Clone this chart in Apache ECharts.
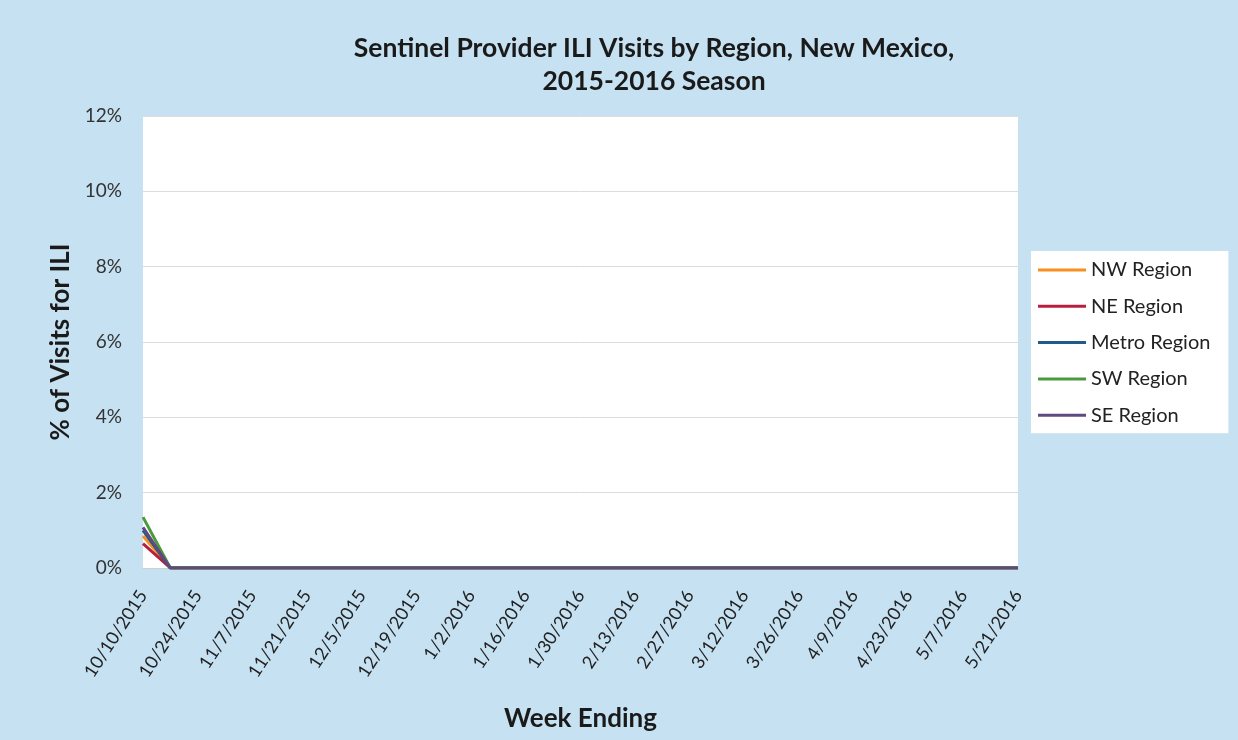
<!DOCTYPE html>
<html>
<head>
<meta charset="utf-8">
<script src="https://cdn.jsdelivr.net/npm/echarts@6/dist/echarts.min.js"></script>
<style>
  html, body { margin: 0; padding: 0; background: #c6e1f1; }
  #main { width: 1238px; height: 740px; }
</style>
</head>
<body>
<div id="main"></div>
<script>
// weeks ending, 2015-2016 season
var weeks = ['10/10/2015','10/17/2015','10/24/2015','10/31/2015','11/7/2015','11/14/2015','11/21/2015','11/28/2015',
    '12/5/2015','12/12/2015','12/19/2015','12/26/2015','1/2/2016','1/9/2016','1/16/2016','1/23/2016',
    '1/30/2016','2/6/2016','2/13/2016','2/20/2016','2/27/2016','3/5/2016','3/12/2016','3/19/2016',
    '3/26/2016','4/2/2016','4/9/2016','4/16/2016','4/23/2016','4/30/2016','5/7/2016','5/14/2016','5/21/2016'];

// % of visits for ILI
var nwRegion    = [0.85,0,0,0,0,0,0,0,0,0,0,0,0,0,0,0,0,0,0,0,0,0,0,0,0,0,0,0,0,0,0,0,0];
var neRegion    = [0.65,0,0,0,0,0,0,0,0,0,0,0,0,0,0,0,0,0,0,0,0,0,0,0,0,0,0,0,0,0,0,0,0];
var metroRegion = [1.0,0,0,0,0,0,0,0,0,0,0,0,0,0,0,0,0,0,0,0,0,0,0,0,0,0,0,0,0,0,0,0,0];
var swRegion    = [1.35,0,0,0,0,0,0,0,0,0,0,0,0,0,0,0,0,0,0,0,0,0,0,0,0,0,0,0,0,0,0,0,0];
var seRegion    = [1.08,0,0,0,0,0,0,0,0,0,0,0,0,0,0,0,0,0,0,0,0,0,0,0,0,0,0,0,0,0,0,0,0];

var font = 'Lato, "Open Sans", sans-serif';

function line(name, data, color) {
    return {
        name: name,
        type: 'line',
        data: data,
        symbol: 'none',
        lineStyle: { width: 3, color: color },
        itemStyle: { color: color }
    };
}

var myChart = echarts.init(document.getElementById('main'));

var option = {
    backgroundColor: '#c6e1f1',
    animation: false,
    title: {
        text: 'Sentinel Provider ILI Visits by Region, New Mexico,\n2015-2016 Season',
        left: 649,
        top: 27,
        textAlign: 'center',
        textStyle: { fontFamily: font, fontSize: 26.5, fontWeight: 'bold', color: '#1a1a1a', lineHeight: 33 }
    },
    legend: {
        orient: 'vertical',
        left: 1031,
        top: 251,
        padding: [9, 18, 8, 7],
        backgroundColor: '#ffffff',
        icon: 'rect',
        itemWidth: 48,
        itemHeight: 3,
        itemGap: 16.3,
        textStyle: { fontFamily: font, fontSize: 20, color: '#222' },
        data: ['NW Region', 'NE Region', 'Metro Region', 'SW Region', 'SE Region']
    },
    grid: {
        left: 143,
        right: 220,
        top: 116,
        bottom: 172,
        outerBoundsMode: 'none',
        containLabel: false,
        show: true,
        backgroundColor: '#ffffff',
        borderWidth: 0
    },
    xAxis: {
        type: 'category',
        data: weeks,
        boundaryGap: false,
        name: 'Week Ending',
        nameLocation: 'middle',
        nameGap: 138,
        nameTextStyle: { fontFamily: font, fontSize: 26, fontWeight: 'bold', color: '#1a1a1a' },
        axisLine: { lineStyle: { color: '#d0d0d0' } },
        axisTick: { show: false },
        axisLabel: { interval: 1, rotate: 57, margin: 24, fontFamily: font, fontSize: 18, color: '#222' }
    },
    yAxis: {
        type: 'value',
        min: 0,
        max: 12,
        interval: 2,
        name: '% of Visits for ILI',
        nameLocation: 'middle',
        nameGap: 68,
        nameTextStyle: { fontFamily: font, fontSize: 26, fontWeight: 'bold', color: '#1a1a1a' },
        axisLine: { show: false },
        axisTick: { show: false },
        axisLabel: { formatter: '{value}%', margin: 21, fontFamily: font, fontSize: 19, color: '#333' },
        splitLine: { lineStyle: { color: '#dcdcdc', width: 1 } }
    },
    series: [
        line('NW Region', nwRegion, '#f7901e'),
        line('NE Region', neRegion, '#b5203e'),
        line('Metro Region', metroRegion, '#1f5a8a'),
        line('SW Region', swRegion, '#4c9a3f'),
        line('SE Region', seRegion, '#5f4a80')
    ]
};

myChart.setOption(option);
</script>
</body>
</html>
